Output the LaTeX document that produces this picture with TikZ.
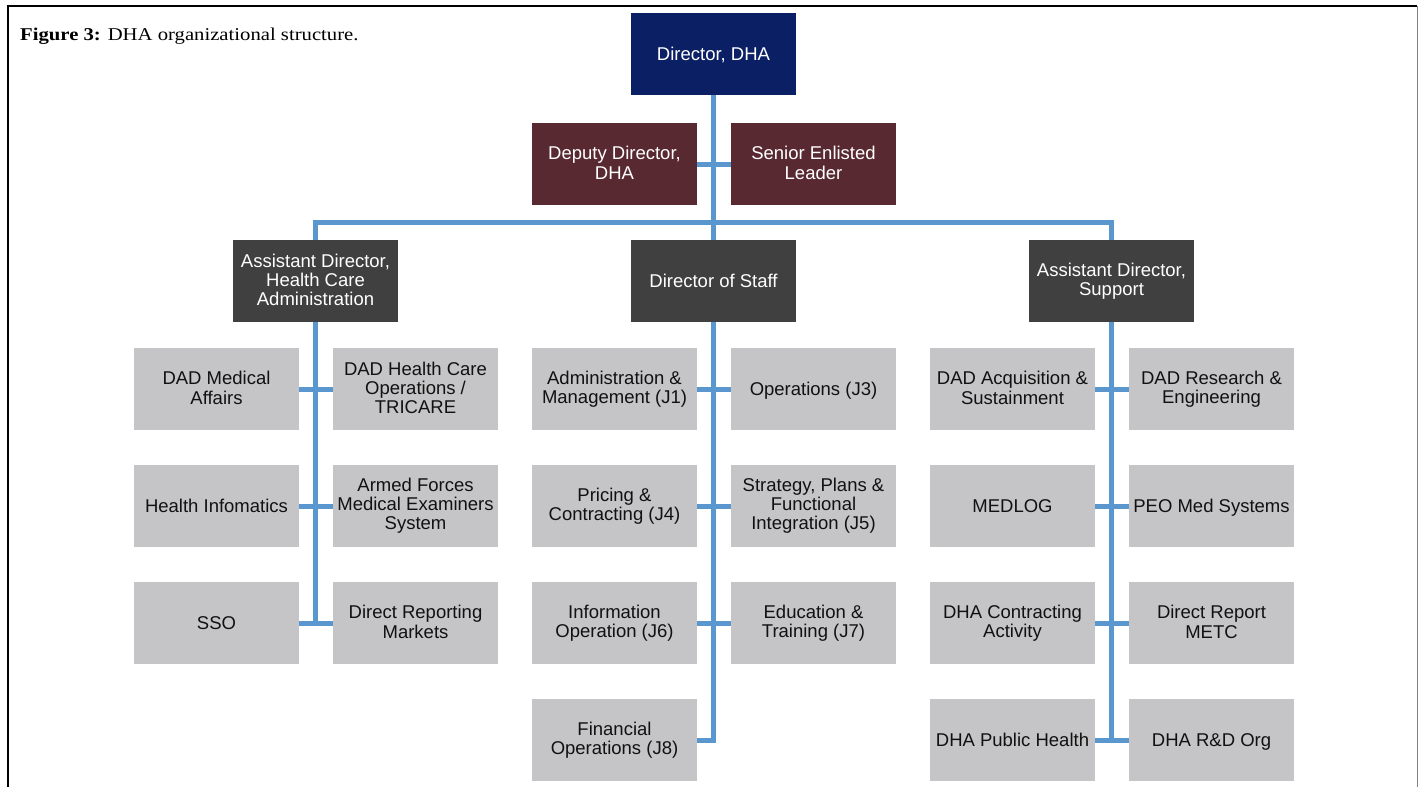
\documentclass[tikz,border=0pt]{standalone}
\usepackage{fontspec}
\setmainfont{Liberation Sans}
\newfontfamily\capfont{Liberation Serif}
\definecolor{navy}{HTML}{0B1F65}
\definecolor{maroon}{HTML}{582931}
\definecolor{darkbox}{HTML}{404041}
\definecolor{lightbox}{HTML}{C5C5C7}
\definecolor{lineblue}{HTML}{5B97CF}
\definecolor{txt}{HTML}{111111}
\begin{document}
\begin{tikzpicture}[x=1pt,y=-1pt,
  box/.style={minimum width=165pt, minimum height=82pt, inner sep=0pt, align=center,
    font=\fontsize{18.5}{19.2}\selectfont,
    execute at begin node={\rule{0pt}{16pt}},
    execute at end node={\rule[-2.6pt]{0pt}{2.6pt}}},
  navyb/.style={box, fill=navy, text=white},
  maroonb/.style={box, fill=maroon, text=white},
  darkb/.style={box, fill=darkbox, text=white},
  grayb/.style={box, fill=lightbox, text=txt},
  conn/.style={draw=lineblue, line width=5pt, line join=miter}]
\useasboundingbox (0,0) rectangle (1419,787);
% frame
\draw[line width=1.5pt] (8,787) -- (8,6) -- (1417,6);
\draw[gray, line width=1pt] (1417,6) -- (1417,787);
\node[anchor=base west, inner sep=0pt, font=\capfont\fontsize{18}{20}\selectfont] (cap) at (20,40.5)
  {\scalebox{1.15}[1]{\textbf{Figure 3:} DHA organizational structure.}};

% top
\node[navyb] (dir) at (713.5,54) {Director, DHA};
\node[maroonb] (dep) at (614.5,164) {Deputy Director,\\DHA};
\node[maroonb] (sen) at (813.5,164) {Senior Enlisted\\Leader};
\node[darkb] (hca) at (315.5,281) {Assistant Director,\\Health Care\\Administration};
\node[darkb] (dos) at (713.5,281) {Director of Staff};
\node[darkb] (sup) at (1111.5,281) {Assistant Director,\\Support};

% left group
\node[grayb] (l11) at (216.5,389) {DAD Medical\\Affairs};
\node[grayb] (l12) at (415.5,389) {DAD Health Care\\Operations /\\TRICARE};
\node[grayb] (l21) at (216.5,506) {Health Infomatics};
\node[grayb] (l22) at (415.5,506) {Armed Forces\\Medical Examiners\\System};
\node[grayb] (l31) at (216.5,623) {SSO};
\node[grayb] (l32) at (415.5,623) {Direct Reporting\\Markets};

% center group
\node[grayb] (c11) at (614.5,389) {Administration \&\\Management (J1)};
\node[grayb] (c12) at (813.5,389) {Operations (J3)};
\node[grayb] (c21) at (614.5,506) {Pricing \&\\Contracting (J4)};
\node[grayb] (c22) at (813.5,506) {Strategy, Plans \&\\Functional\\Integration (J5)};
\node[grayb] (c31) at (614.5,623) {Information\\Operation (J6)};
\node[grayb] (c32) at (813.5,623) {Education \&\\Training (J7)};
\node[grayb] (c41) at (614.5,740) {Financial\\Operations (J8)};

% right group
\node[grayb] (r11) at (1012.5,389) {DAD Acquisition \&\\Sustainment};
\node[grayb] (r12) at (1211.5,389) {DAD Research \&\\Engineering};
\node[grayb] (r21) at (1012.5,506) {MEDLOG};
\node[grayb] (r22) at (1211.5,506) {PEO Med Systems};
\node[grayb] (r31) at (1012.5,623) {DHA Contracting\\Activity};
\node[grayb] (r32) at (1211.5,623) {Direct Report\\METC};
\node[grayb] (r41) at (1012.5,740) {DHA Public Health};
\node[grayb] (r42) at (1211.5,740) {DHA R\&D Org};

% connectors
\coordinate (bar) at (713.5,222);
\path[conn] (dir.south) -- (dos.north);
\path[conn] (dep.east) -- (sen.west);
\path[conn] (hca.north) |- (bar) -| (sup.north);

\path[conn] (hca.south) -- (hca.south |- l31.east) -- (l31.east);
\path[conn] (l11.east) -- (l12.west);
\path[conn] (l21.east) -- (l22.west);
\path[conn] (l31.east) -- (l32.west);

\path[conn] (dos.south) -- (dos.south |- c41.east) -- (c41.east);
\path[conn] (c11.east) -- (c12.west);
\path[conn] (c21.east) -- (c22.west);
\path[conn] (c31.east) -- (c32.west);

\path[conn] (sup.south) -- (sup.south |- r41.east);
\path[conn] (r11.east) -- (r12.west);
\path[conn] (r21.east) -- (r22.west);
\path[conn] (r31.east) -- (r32.west);
\path[conn] (r41.east) -- (r42.west);
\end{tikzpicture}
\end{document}
